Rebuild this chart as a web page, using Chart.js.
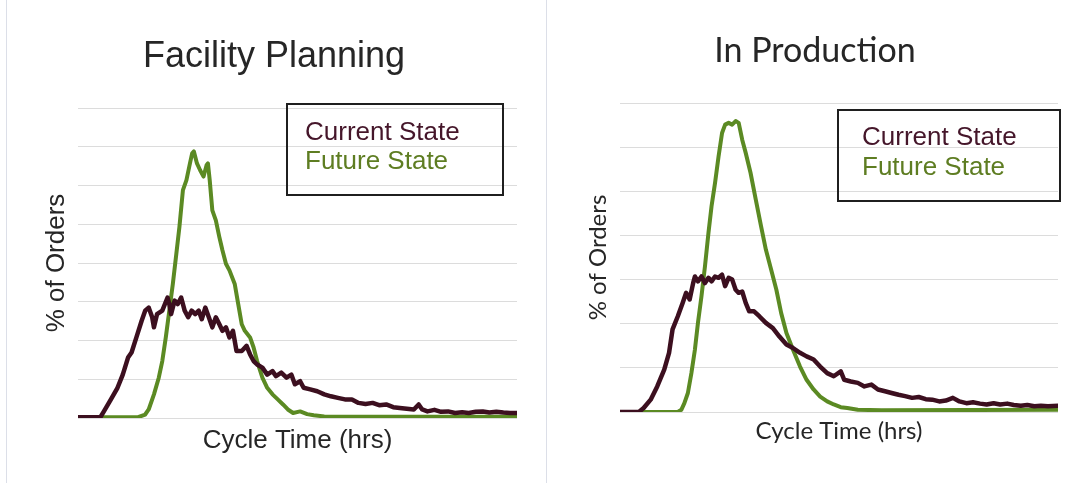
<!DOCTYPE html>
<html>
<head>
<meta charset="utf-8">
<title>Cycle Time Distribution</title>
<script src="https://cdn.jsdelivr.net/npm/chart.js@4.4.1/dist/chart.umd.min.js"></script>
<style>
    body { margin: 0; background: #fff; }
    #wrap { position: relative; width: 1075px; height: 483px; overflow: hidden; background: #fff; }
    canvas { position: absolute; top: 0; }
    #leftChart { left: 0; }
    #rightChart { left: 545px; }
    .rule { position: absolute; top: 0; width: 1px; height: 483px; background: #dcdfe8; }
</style>
</head>
<body>
<div id="wrap">
    <div class="rule" style="left:6px"></div>
    <div class="rule" style="left:546px"></div>
    <canvas id="leftChart" width="540" height="483"></canvas>
    <canvas id="rightChart" width="530" height="483"></canvas>
</div>
<script>
// Facility Planning - Current State
const planCurX = [0, 5.1, 5.9, 7.5, 9.0, 10.2, 11.4, 12.2, 13.3, 14.5, 15.3, 16.1, 16.9, 17.3, 18.0, 19.2, 20.4, 20.8, 21.2, 22.0,
    22.7, 23.5, 24.3, 25.1, 25.9, 26.7, 27.5, 28.2, 29.0, 29.8, 30.6, 31.4, 32.2, 32.9, 33.7, 34.5, 35.3, 36.1, 37.3, 38.4,
    39.2, 40.0, 40.8, 42.0, 43.1, 44.3, 45.1, 46.3, 47.5, 48.6, 49.4, 50.6, 51.4, 52.9, 54.5, 56.1, 57.6, 59.2, 60.8, 62.4,
    63.9, 65.5, 67.1, 68.6, 70.2, 71.8, 73.3, 74.9, 76.5, 77.6, 78.4, 79.6, 81.2, 82.7, 84.3, 85.9, 87.5, 89.0, 90.6, 92.2,
    93.7, 95.3, 96.9, 98.4, 100];
const planCurY = [0.02, 0.02, 0.17, 0.48, 0.78, 1.12, 1.56, 1.69, 2.08, 2.51, 2.77, 2.85, 2.60, 2.34, 2.68, 2.77, 3.11, 2.94, 2.68, 3.03,
    2.94, 3.11, 2.77, 2.60, 2.77, 2.68, 2.77, 2.55, 2.85, 2.60, 2.34, 2.60, 2.42, 2.25, 2.34, 2.08, 2.25, 1.73, 1.73, 1.86,
    1.64, 1.47, 1.38, 1.30, 1.12, 1.21, 1.08, 1.17, 1.04, 1.12, 0.87, 0.95, 0.78, 0.74, 0.69, 0.61, 0.56, 0.52, 0.48, 0.48,
    0.39, 0.36, 0.39, 0.33, 0.35, 0.28, 0.26, 0.24, 0.22, 0.35, 0.22, 0.17, 0.21, 0.16, 0.17, 0.13, 0.15, 0.13, 0.16, 0.17,
    0.14, 0.16, 0.14, 0.13, 0.13];

// Facility Planning - Future State
const planFutX = [0, 13.7, 15.3, 16.1, 17.3, 18.4, 19.2, 20.0, 20.8, 21.6, 22.4, 23.1, 23.9, 24.7, 25.5, 26.0, 26.4, 27.1, 27.8, 28.6,
    29.3, 29.6, 30.0, 30.6, 31.4, 32.2, 32.9, 33.7, 34.5, 35.7, 36.5, 37.3, 38.0, 39.2, 40.0, 40.8, 42.0, 43.1, 44.3, 45.5,
    46.7, 47.8, 49.0, 50.6, 52.2, 53.7, 56.1, 60.8, 100];
const planFutY = [0.02, 0.02, 0.09, 0.22, 0.61, 1.04, 1.47, 2.08, 2.77, 3.46, 4.24, 4.93, 5.88, 6.14, 6.57, 6.83, 6.88, 6.57, 6.40, 6.23,
    6.53, 6.57, 6.14, 5.36, 5.10, 4.67, 4.33, 3.98, 3.81, 3.46, 2.94, 2.42, 2.25, 2.08, 1.82, 1.47, 1.04, 0.78, 0.61, 0.48,
    0.35, 0.22, 0.13, 0.17, 0.10, 0.07, 0.04, 0.03, 0.03];

// In Production - Current State
const prodCurX = [0, 4.3, 5.4, 7.0, 8.5, 10.1, 11.2, 12.0, 13.2, 14.3, 15.1, 15.9, 16.7, 17.1, 17.8, 18.6, 19.4, 20.2, 20.9, 21.7,
    22.5, 23.3, 24.0, 24.8, 25.6, 26.4, 27.1, 27.9, 28.7, 29.5, 30.6, 31.8, 33.3, 34.9, 36.4, 38.0, 39.5, 41.1, 42.6, 44.2,
    45.7, 47.3, 48.8, 50.4, 51.2, 52.7, 54.3, 55.8, 57.4, 58.9, 60.5, 62.0, 63.6, 65.1, 66.7, 68.2, 69.8, 71.3, 72.9, 74.4,
    76.0, 77.5, 79.1, 80.6, 82.2, 83.7, 85.3, 86.8, 88.4, 89.9, 91.5, 93.0, 94.6, 96.1, 97.7, 100];
const prodCurY = [0, 0, 0.09, 0.28, 0.58, 0.96, 1.34, 1.87, 2.17, 2.47, 2.70, 2.55, 2.92, 3.07, 2.96, 3.07, 2.92, 3.04, 2.96, 3.07,
    3.04, 3.11, 2.85, 3.04, 3.00, 2.77, 2.70, 2.73, 2.47, 2.28, 2.28, 2.17, 2.02, 1.90, 1.71, 1.53, 1.45, 1.34, 1.26, 1.19,
    1.03, 0.88, 0.81, 0.92, 0.73, 0.69, 0.66, 0.58, 0.62, 0.51, 0.47, 0.43, 0.39, 0.36, 0.32, 0.34, 0.29, 0.28, 0.24, 0.26,
    0.32, 0.24, 0.20, 0.22, 0.19, 0.17, 0.20, 0.17, 0.19, 0.16, 0.14, 0.16, 0.13, 0.14, 0.13, 0.14];

// In Production - Future State
const prodFutX = [0, 13.2, 14.0, 14.7, 15.5, 16.3, 17.1, 17.8, 18.6, 19.4, 20.2, 20.9, 21.7, 22.5, 23.3, 24.0, 24.8, 25.6, 26.4, 27.1,
    27.9, 28.7, 29.8, 31.0, 32.2, 33.3, 34.5, 35.7, 36.8, 38.0, 39.5, 41.1, 42.6, 44.2, 45.7, 47.3, 48.8, 50.4, 51.9, 54.3,
    59.7, 100];
const prodFutY = [0, 0, 0.05, 0.20, 0.43, 0.88, 1.41, 2.02, 2.62, 3.30, 4.06, 4.66, 5.19, 5.79, 6.32, 6.51, 6.55, 6.51, 6.59, 6.55,
    6.17, 5.87, 5.42, 4.81, 4.21, 3.68, 3.23, 2.77, 2.24, 1.79, 1.41, 1.03, 0.73, 0.51, 0.35, 0.24, 0.17, 0.11, 0.09, 0.05,
    0.04, 0.05];

const seriesNames = ["Current State", "Future State"];
const lineColors = ["#3c0f1f", "#5b8a23"];
const textColors = ["#45162a", "#5e7d22"];

function toPoints(xs, ys) {
    return xs.map(function (x, i) {
        return {x: x, y: ys[i]};
    });
}

// draws the chart title and the boxed legend on the canvas
const panelDecor = {
    id: "panelDecor",
    afterDraw: function (chart, args, opts) {
        let ctx = chart.ctx;
        ctx.save();
        ctx.textBaseline = "alphabetic";
        ctx.textAlign = "center";
        ctx.fillStyle = "#262626";
        ctx.font = opts.titleFont;
        ctx.fillText(opts.title, opts.titleX, opts.titleY);

        let b = opts.box;
        ctx.lineWidth = 2;
        ctx.strokeStyle = "#1f1f1f";
        ctx.strokeRect(b.x, b.y, b.w, b.h);
        ctx.textAlign = "left";
        ctx.font = opts.legendFont;
        chart.data.datasets.forEach(function (ds, i) {
            ctx.fillStyle = textColors[i];
            ctx.fillText(ds.label, b.textX, b.lineY[i]);
        });
        ctx.restore();
    }
};

function makeChart(canvasId, curPts, futPts, yMax, cfg) {
    let ctx = document.getElementById(canvasId).getContext("2d");
    return new Chart(ctx, {
        type: "line",
        data: {
            datasets: [
                {
                    label: seriesNames[0],
                    data: curPts,
                    borderColor: lineColors[0],
                    borderWidth: 4.5,
                    pointRadius: 0,
                    tension: 0,
                    borderJoinStyle: "round",
                    borderCapStyle: "round"
                },
                {
                    label: seriesNames[1],
                    data: futPts,
                    borderColor: lineColors[1],
                    borderWidth: 4,
                    pointRadius: 0,
                    tension: 0,
                    borderJoinStyle: "round",
                    borderCapStyle: "round"
                }
            ]
        },
        options: {
            responsive: false,
            animation: false,
            events: [],
            layout: {padding: {top: cfg.top, right: cfg.right, bottom: 0, left: 0}},
            plugins: {
                legend: {display: false},
                tooltip: {enabled: false},
                panelDecor: cfg.decor
            },
            scales: {
                x: {
                    type: "linear",
                    min: 0,
                    max: 100,
                    grid: {display: false, drawTicks: false},
                    border: {display: false},
                    ticks: {display: false},
                    title: {
                        display: true,
                        text: "Cycle Time (hrs)",
                        color: "#262626",
                        font: cfg.axisFont,
                        padding: {top: 0, bottom: cfg.xTitlePad}
                    },
                    afterFit: function (scale) {
                        scale.height = cfg.xHeight;
                    }
                },
                y: {
                    min: 0,
                    max: yMax,
                    ticks: {display: false, stepSize: 1},
                    grid: {color: "#dcdcdc", lineWidth: 1, drawTicks: false},
                    border: {display: false},
                    title: {
                        display: true,
                        text: "% of Orders",
                        color: "#262626",
                        font: cfg.axisFont,
                        padding: {top: cfg.yTitlePad, bottom: 0}
                    },
                    afterFit: function (scale) {
                        scale.width = cfg.yWidth;
                    }
                }
            }
        },
        plugins: [panelDecor]
    });
}

makeChart("leftChart", toPoints(planCurX, planCurY), toPoints(planFutX, planFutY), 8, {
    top: 108,
    right: 23,
    xHeight: 65,
    xTitlePad: 27,
    yWidth: 78,
    yTitlePad: 41,
    axisFont: {family: "'Liberation Sans', Arial, sans-serif", size: 26},
    decor: {
        title: "Facility Planning",
        titleFont: "36px 'Liberation Sans', Arial, sans-serif",
        titleX: 274,
        titleY: 67,
        legendFont: "26px 'Liberation Sans', Arial, sans-serif",
        box: {x: 287, y: 104, w: 216, h: 91, textX: 305, lineY: [140, 169]}
    }
});

makeChart("rightChart", toPoints(prodCurX, prodCurY), toPoints(prodFutX, prodFutY), 7, {
    top: 103,
    right: 17,
    xHeight: 71,
    xTitlePad: 37,
    yWidth: 75,
    yTitlePad: 39,
    axisFont: {family: "Lato, 'Open Sans', sans-serif", size: 24},
    decor: {
        title: "In Production",
        titleFont: "34px Lato, 'Open Sans', sans-serif",
        titleX: 270,
        titleY: 62,
        legendFont: "26px 'Liberation Sans', Arial, sans-serif",
        box: {x: 293, y: 110, w: 222, h: 91, textX: 317, lineY: [145, 175]}
    }
});
</script>
</body>
</html>
